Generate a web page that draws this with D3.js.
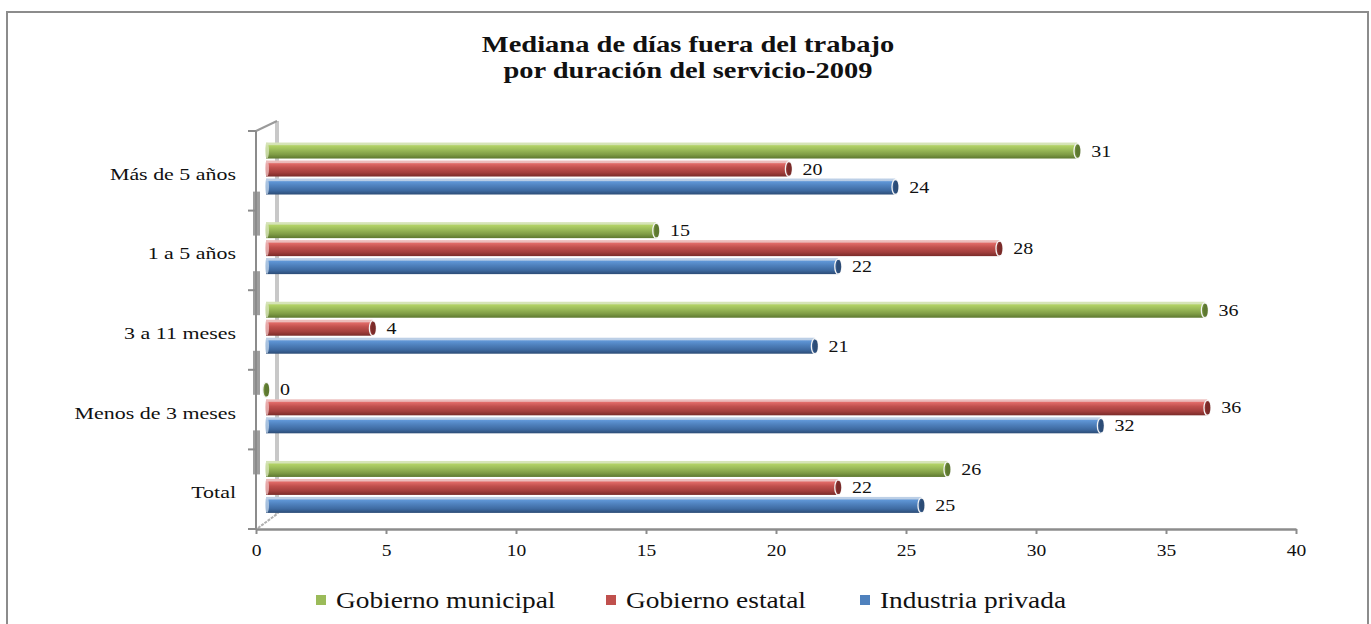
<!DOCTYPE html>
<html><head><meta charset="utf-8">
<script src="https://cdn.jsdelivr.net/npm/d3@7"></script>
<style>html,body{margin:0;padding:0;background:#fff;}svg{display:block;}</style>
</head><body>
<svg id="chart" width="1371" height="624"></svg>
<script>
const categories = ["Más de 5 años", "1 a 5 años", "3 a 11 meses", "Menos de 3 meses", "Total"];
const seriesNames = ["Gobierno municipal", "Gobierno estatal", "Industria privada"];
const municipal = [31.2, 15.0, 36.1, 0, 26.2];
const estatal = [20.1, 28.2, 4.1, 36.2, 22.0];
const privada = [24.2, 22.0, 21.1, 32.1, 25.2];
const xTicks = [0, 5, 10, 15, 20, 25, 30, 35, 40];
const titleLines = ["Mediana de días fuera del trabajo", "por duración del servicio-2009"];

const seriesValues = [municipal, estatal, privada];
const palette = [
  {rim:"#d6e4b8", hi:"#b2d266", base:"#9bbb59", lo:"#7f9c45", dark:"#5d7830", cap:"#6f8c3a"},
  {rim:"#ecbcbb", hi:"#e06a67", base:"#c0504d", lo:"#a33f3d", dark:"#7a2b29", cap:"#8f3432"},
  {rim:"#bccfe6", hi:"#5f96d6", base:"#4f81bd", lo:"#3e6aa1", dark:"#2c4c76", cap:"#345a8c"}
];

const svg = d3.select("#chart");
const serif = "'Liberation Serif','Times New Roman',serif";

// helper: text horizontally stretched around its anchor point
function sText(parent, px, py, sx, str) {
  return parent.append("text")
    .attr("transform", `translate(${px},${py}) scale(${sx},1)`)
    .attr("font-family", serif).attr("fill", "#111").text(str);
}

// outer border
svg.append("rect").attr("x",7).attr("y",12).attr("width",1361).attr("height",640)
  .attr("fill","none").attr("stroke","#8c8c8c").attr("stroke-width",2);

// title
titleLines.forEach((t,i)=>{
  sText(svg, 688, 52+i*26, 1.24, t).attr("text-anchor","middle")
    .attr("font-weight","bold").attr("font-size",23);
});

const x = d3.scaleLinear().domain([0,40]).range([256,1296]);
const y0 = d3.scaleBand().domain(categories).range([131,529]).paddingInner(0.34).paddingOuter(0.17);
const y1 = d3.scaleBand().domain(seriesNames).range([0,y0.bandwidth()]).paddingInner(0.08);
const depthX = 10, lift = -2;

// gradients
const defs = svg.append("defs");
palette.forEach((p,i)=>{
  const g = defs.append("linearGradient").attr("id","g"+i).attr("x1",0).attr("x2",0).attr("y1",0).attr("y2",1);
  [[0,p.rim],[0.12,p.rim],[0.2,p.hi],[0.45,p.base],[0.75,p.lo],[1,p.dark]].forEach(s=>
    g.append("stop").attr("offset",s[0]).attr("stop-color",s[1]));
});

// back wall line
svg.append("rect").attr("x",275).attr("y",121).attr("width",4).attr("height",393).attr("fill","#c8c8c8");
svg.append("line").attr("x1",256).attr("y1",131).attr("x2",277).attr("y2",121)
  .attr("stroke","#9a9a9a").attr("stroke-width",2);
svg.append("line").attr("x1",258).attr("y1",528).attr("x2",277).attr("y2",514)
  .attr("stroke","#b0b0b0").attr("stroke-width",2).attr("stroke-dasharray","3,1");

// front left axis thick segments at boundaries
const boundaries = categories.slice(1).map(c => y0(c) - y0.step()*y0.paddingInner()/2);
boundaries.forEach(b=>{
  svg.append("rect").attr("x",253).attr("y",b-19).attr("width",7).attr("height",44)
    .attr("fill","#9e9e9e");
});
svg.append("line").attr("x1",256).attr("y1",131).attr("x2",256).attr("y2",529)
  .attr("stroke","#8c8c8c").attr("stroke-width",2);
[131].concat(boundaries).concat([529]).forEach(b=>{
  svg.append("line").attr("x1",248).attr("x2",256).attr("y1",b).attr("y2",b)
    .attr("stroke","#8c8c8c").attr("stroke-width",2);
});

// bars
const fmt = d3.format(".0f");
categories.forEach((c,ci)=>{
  seriesNames.forEach((s,si)=>{
    const v = seriesValues[si][ci];
    const p = palette[si];
    const top = y0(c) + y1(s) + lift;
    const h = 16;
    const x0 = x(0) + depthX;
    const x1 = x(v) + depthX;
    const g = svg.append("g");
    if (x1 - x0 > 0) {
      g.append("rect").attr("x",x0).attr("y",top).attr("width",x1-x0).attr("height",h)
        .attr("fill","url(#g"+si+")");
      g.append("ellipse").attr("cx",x0+1).attr("cy",top+h/2).attr("rx",2).attr("ry",h/2)
        .attr("fill",p.rim).attr("opacity",0.8);
    }
    g.append("ellipse").attr("cx",x1).attr("cy",top+h/2+0.5).attr("rx",3.2).attr("ry",h/2-0.5)
      .attr("fill",p.cap).attr("stroke","#f4f4f4").attr("stroke-width",1.3);
    g.append("ellipse").attr("cx",x1+1).attr("cy",top+h/2+0.5).attr("rx",2.2).attr("ry",h/2-1.5)
      .attr("fill",p.dark);
    sText(svg, x1+14, top+h/2+6, 1.25, fmt(v)).attr("font-size",16);
  });
});

// category labels
categories.forEach(c=>{
  sText(svg, 236, y0(c)+y0.bandwidth()/2+9, 1.33, c)
    .attr("text-anchor","end").attr("font-size",16.5);
});

// x axis
const xAxis = d3.axisBottom(x).tickValues(xTicks).tickSize(5).tickSizeOuter(0).tickFormat(d3.format("d"));
const ax = svg.append("g").attr("transform","translate(0,529)").call(xAxis);
ax.select(".domain").attr("stroke","#8c8c8c").attr("stroke-width",2.5);
ax.selectAll(".tick line").attr("stroke","#8c8c8c").attr("stroke-width",2);
ax.selectAll(".tick text").attr("font-family",serif).attr("font-size",16)
  .attr("fill","#111").attr("y",0).attr("dy",0)
  .attr("transform","translate(0,27) scale(1.22,1)");

// legend
const legendX = [316, 606, 860];
seriesNames.forEach((s,i)=>{
  svg.append("rect").attr("x",legendX[i]).attr("y",595).attr("width",10).attr("height",10)
    .attr("fill",palette[i].base);
  sText(svg, legendX[i]+20, 608, 1.14, s).attr("font-size",24);
});
</script>
</body></html>
